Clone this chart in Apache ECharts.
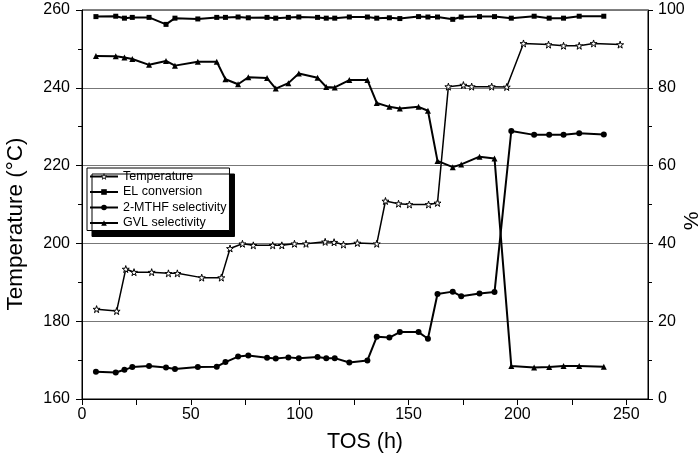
<!DOCTYPE html>
<html><head><meta charset="utf-8">
<script src="https://cdn.jsdelivr.net/npm/echarts@6/dist/echarts.min.js"></script>
<style>html,body{margin:0;padding:0;background:#fff}#c{width:700px;height:469px}</style>
</head><body><div id="c"></div>
<script>
// Temperature series (left axis), own sampling times
const tempTos = [6.7, 15.9, 20.1, 23.9, 32, 39.7, 43.8, 55, 64, 68, 73.7, 78.7, 87.6, 91.8, 97.6, 102.9, 111.7, 115.8, 120.1, 126.5, 135.4, 139.4, 145.4, 150.4, 159.2, 163.3, 168.3, 175.2, 179, 188.2, 195.1, 202.8, 214.3, 221.2, 228.4, 235, 247.2];
const temperature = [183.1, 182.6, 193.4, 192.6, 192.6, 192.3, 192.3, 191.2, 191.2, 198.7, 199.9, 199.5, 199.5, 199.5, 199.9, 199.9, 200.4, 200.3, 199.7, 200.1, 199.9, 210.9, 210.2, 210.0, 210.0, 210.4, 240.3, 240.7, 240.3, 240.3, 240.2, 251.4, 251.1, 250.8, 250.8, 251.4, 251.1];

// Sampling times for conversion / selectivities (right axis, %)
const tos = [6.4, 15.5, 19.5, 23.1, 30.8, 38.6, 42.7, 53.2, 61.9, 65.9, 71.7, 76.4, 85, 89, 94.8, 99.6, 108.2, 112.2, 116.1, 122.8, 131.1, 135.4, 141.2, 146, 154.6, 158.9, 163.3, 170.3, 174.2, 182.6, 189.5, 197.2, 207.7, 214.6, 221.2, 228.4, 239.7];
const elConversion = [98.3, 98.4, 97.9, 98.1, 98.1, 96.3, 97.9, 97.7, 98.1, 98.1, 98.2, 98.0, 98.1, 97.9, 98.1, 98.2, 98.1, 97.9, 97.9, 98.2, 98.2, 97.9, 98.0, 97.8, 98.3, 98.2, 98.2, 97.6, 98.2, 98.3, 98.3, 97.9, 98.4, 97.9, 97.9, 98.4, 98.4];
const mthfSelectivity = [7.0, 6.8, 7.5, 8.2, 8.5, 8.1, 7.7, 8.2, 8.3, 9.5, 10.9, 11.2, 10.6, 10.4, 10.7, 10.5, 10.8, 10.5, 10.5, 9.4, 9.9, 16.0, 15.8, 17.2, 17.2, 15.5, 27.0, 27.6, 26.4, 27.1, 27.5, 68.9, 67.9, 67.9, 67.9, 68.3, 68.0];
const gvlSelectivity = [88.2, 88.1, 87.8, 87.4, 85.9, 86.9, 85.7, 86.7, 86.7, 82.2, 80.9, 82.7, 82.5, 79.8, 81.2, 83.7, 82.6, 80.2, 80.1, 82.0, 82.0, 76.1, 75.1, 74.7, 75.1, 74.1, 61.2, 59.6, 60.3, 62.3, 61.8, 8.5, 8.1, 8.2, 8.5, 8.5, 8.3];

const seriesNames = ['Temperature', 'EL conversion', '2-MTHF selectivity', 'GVL selectivity'];
const xTickValues = [0, 25, 50, 75, 100, 125, 150, 175, 200, 225, 250];
const xLabelValues = [0, 50, 100, 150, 200, 250];

const pair = (xs, ys) => xs.map((x, i) => [x, ys[i]]);
const STAR = 'path://M50,0 L61,35 L98,35 L68,57 L79,91 L50,70 L21,91 L32,57 L2,35 L39,35 Z';
const FONT = 'Liberation Sans, Arial, sans-serif';

const chart = echarts.init(document.getElementById('c'), null, {renderer: 'canvas'});
chart.setOption({
  animation: false,
  backgroundColor: '#fff',
  textStyle: {fontFamily: FONT, color: '#000'},
  grid: {left: 82, right: 52, top: 10, bottom: 70, outerBoundsMode: 'none', containLabel: false,
         show: true, borderColor: '#000', borderWidth: 1, backgroundColor: 'transparent'},
  legend: {
    data: [
      {name: seriesNames[0], itemStyle: {color: '#fff', borderColor: '#000', borderWidth: 0.8}},
      {name: seriesNames[1]}, {name: seriesNames[2]}, {name: seriesNames[3]}
    ],
    orient: 'vertical',
    left: 87, top: 168,
    padding: [2, 3, 1, 2],
    itemGap: 2.5,
    itemWidth: 28, itemHeight: 7,
    backgroundColor: '#fff',
    borderColor: '#000', borderWidth: 1,
    shadowColor: '#000', shadowBlur: 0, shadowOffsetX: 5, shadowOffsetY: 6,
    textStyle: {fontFamily: FONT, fontSize: 12.5, color: '#000'}
  },
  xAxis: {
    type: 'value', min: 0, max: 260,
    name: 'TOS (h)', nameLocation: 'middle', nameGap: 32, nameMoveOverlap: false,
    nameTextStyle: {fontFamily: FONT, fontSize: 21.5, color: '#000'},
    axisLine: {lineStyle: {color: '#000', width: 1}},
    axisTick: {length: 6, lineStyle: {color: '#000'}, customValues: xTickValues},
    axisLabel: {fontFamily: FONT, fontSize: 16, color: '#000', margin: 8, customValues: xLabelValues},
    splitLine: {show: false}
  },
  yAxis: [{
    type: 'value', min: 160, max: 260, interval: 20, position: 'left',
    name: 'Temperature (°C)', nameLocation: 'middle', nameGap: 55, nameRotate: 90, nameMoveOverlap: false,
    nameTextStyle: {fontFamily: FONT, fontSize: 22.5, color: '#000', padding: [0, 39, 0, 0]},
    axisLine: {show: true, lineStyle: {color: '#000', width: 1}},
    axisTick: {show: true, length: 6, lineStyle: {color: '#000'}},
    minorTick: {show: true, splitNumber: 2, length: 4, lineStyle: {color: '#000'}},
    axisLabel: {fontFamily: FONT, fontSize: 16, color: '#000', margin: 12},
    splitLine: {show: true, lineStyle: {color: '#777', width: 1}}
  }, {
    type: 'value', min: 0, max: 100, interval: 20, position: 'right',
    name: '%', nameLocation: 'middle', nameGap: 34, nameRotate: 90, nameMoveOverlap: false,
    nameTextStyle: {fontFamily: FONT, fontSize: 21, color: '#000', padding: [0, 33, 0, 0]},
    axisLine: {show: true, lineStyle: {color: '#000', width: 1}},
    axisTick: {show: true, length: 5, lineStyle: {color: '#000'}},
    minorTick: {show: true, splitNumber: 2, length: 4, lineStyle: {color: '#000'}},
    axisLabel: {fontFamily: FONT, fontSize: 16, color: '#000', margin: 10},
    splitLine: {show: false}
  }],
  series: [{
    name: seriesNames[0], type: 'line', yAxisIndex: 0,
    data: pair(tempTos, temperature),
    symbol: STAR, symbolSize: 7,
    lineStyle: {color: '#000', width: 1.5},
    itemStyle: {color: '#fff', borderColor: '#000', borderWidth: 1}
  }, {
    name: seriesNames[1], type: 'line', yAxisIndex: 1,
    data: pair(tos, elConversion),
    symbol: 'rect', symbolSize: 5,
    lineStyle: {color: '#000', width: 2},
    itemStyle: {color: '#000'}
  }, {
    name: seriesNames[2], type: 'line', yAxisIndex: 1,
    data: pair(tos, mthfSelectivity),
    symbol: 'circle', symbolSize: 6,
    lineStyle: {color: '#000', width: 2},
    itemStyle: {color: '#000'}
  }, {
    name: seriesNames[3], type: 'line', yAxisIndex: 1,
    data: pair(tos, gvlSelectivity),
    symbol: 'triangle', symbolSize: 6,
    lineStyle: {color: '#000', width: 2},
    itemStyle: {color: '#000'}
  }]
});
</script>
</body></html>
